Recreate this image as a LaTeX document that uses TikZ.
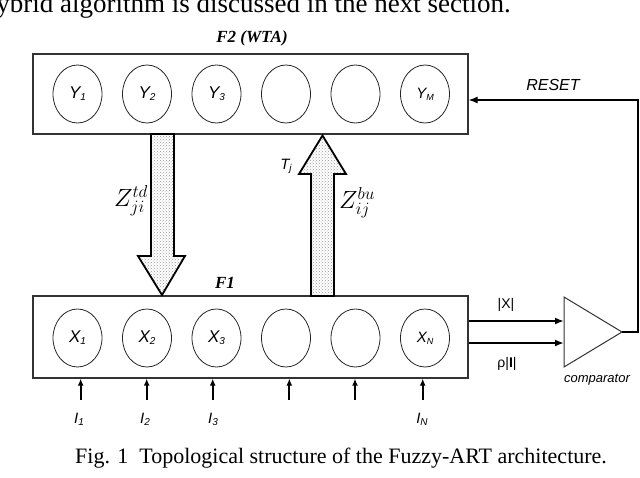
\documentclass[tikz,border=0pt]{standalone}
\usepackage{fontspec}
\setmainfont{Liberation Serif}
\setsansfont{Liberation Sans}
\usetikzlibrary{shapes.geometric,arrows.meta,calc,patterns}
\newcommand{\sil}[4]{{\fontsize{#1}{#1}\selectfont\sffamily\itshape #2}{\fontsize{#3}{#3}\selectfont\raisebox{-0.22em}{\sffamily\itshape #4}}}
\tikzset{
  layerbox/.style={draw=black!80, line width=1.3pt, inner sep=0pt},
  neuron/.style={ellipse, draw=black!85, line width=0.8pt, minimum width=49pt, minimum height=58pt, inner sep=0pt},
  bigarrow/.style={draw=black, line width=1.8pt, fill=black!12, pattern=crosshatch dots, pattern color=black!40, line join=miter},
  sig/.style={line width=1.8pt, -{Latex[length=9pt,width=7pt]}},
  inarrow/.style={line width=1.8pt, -{Latex[length=7pt,width=6pt]}},
  resetline/.style={line width=1.1pt, -{Latex[length=9pt,width=7pt]}},
  comp/.style={draw=black!80, line width=1pt},
  layerlbl/.style={font=\fontsize{17}{17}\selectfont\bfseries\itshape, inner sep=0pt},
}
\begin{document}
\begin{tikzpicture}[x=1pt,y=-1pt]
\useasboundingbox (0,0) rectangle (640,477);
% top text and caption
\node[anchor=base east, inner sep=0pt, font=\fontsize{27}{27}\selectfont] (toptext) at (511,12.5) {ybrid algorithm is discussed in the next section.};
\node[anchor=base west, inner sep=0pt, font=\fontsize{22}{22}\selectfont] (caption) at (75,463) {Fig. 1\hspace{0.5em}Topological structure of the Fuzzy-ART architecture.};
% layers
\node[layerbox, minimum width=435pt, minimum height=80pt] (f2) at (250.5,94) {};
\node[layerbox, minimum width=435pt, minimum height=82pt] (f1) at (250.5,337) {};
\node[layerlbl] (f2lbl) at (252,38) {F2 (WTA)};
\node[layerlbl] (f1lbl) at (225,283) {F1};
% F2 neurons
\node[neuron] (y1) at (77.5,94) {\sil{17}{Y}{10}{1}};
\node[neuron] (y2) at (147,94) {\sil{17}{Y}{10}{2}};
\node[neuron] (y3) at (216.5,94) {\sil{17}{Y}{10}{3}};
\node[neuron] (y4) at (286,94) {};
\node[neuron] (y5) at (355.5,94) {};
\node[neuron] (ym) at (425,94) {\sil{15}{Y}{9}{M}};
% F1 neurons
\node[neuron] (x1) at (77.5,338) {\sil{17}{X}{10}{1}};
\node[neuron] (x2) at (147,338) {\sil{17}{X}{10}{2}};
\node[neuron] (x3) at (216.5,338) {\sil{17}{X}{10}{3}};
\node[neuron] (x4) at (286,338) {};
\node[neuron] (x5) at (355.5,338) {};
\node[neuron] (xn) at (425,338) {\sil{15}{X}{9}{N}};
% big arrows
\draw[bigarrow] (151,134) -- (174,134) -- (174,256) -- (185,256) -- (162,295) -- (138,256) -- (151,256) -- cycle;
\draw[bigarrow] (311,296) -- (334,296) -- (334,174) -- (346,174) -- (322.5,135.5) -- (299,174) -- (311,174) -- cycle;
\node[inner sep=0pt, font=\fontsize{26}{26}\selectfont] (ztd) at (131,201) {$Z^{td}_{ji}$};
\node[inner sep=0pt, font=\fontsize{26}{26}\selectfont] (zbu) at (357,203) {$Z^{bu}_{ij}$};
\node[inner sep=0pt] (tj) at (286,166) {\sil{15}{T}{10}{j}};
% inputs
\foreach \n/\xx in {1/80.7,2/146.7,3/212.7,4/289.3,5/355,6/422.7}{
  \coordinate (in\n) at (\xx,400);
  \draw[inarrow] (in\n) -- (in\n |- f1.south);
}
\node[inner sep=0pt] (i1) at (79,419) {\sil{15}{I}{10}{1}};
\node[inner sep=0pt] (i2) at (145,419) {\sil{15}{I}{10}{2}};
\node[inner sep=0pt] (i3) at (213,419) {\sil{15}{I}{10}{3}};
\node[inner sep=0pt] (in) at (422,419) {\sil{15}{I}{10}{N}};
% comparator
\coordinate (ca) at (564,321);
\coordinate (cb) at (564,343);
\coordinate (ctip) at (622,332);
\coordinate (cr) at (638,332);
\draw[comp] (564,297) -- (ctip) -- (564,367) -- cycle;
\draw[sig] (f1.east |- ca) -- (ca);
\draw[sig] (f1.east |- cb) -- (cb);
\coordinate (rst) at (f2.east |- 0,100);
\draw[resetline] (ctip) -- (cr) |- (rst);
\node[inner sep=0pt, font=\fontsize{14}{14}\selectfont\sffamily] (absx) at (506,305) {|X|};
\node[inner sep=0pt, font=\fontsize{14}{14}\selectfont\sffamily] (rhoi) at (507,364) {ρ|\textbf{I}|};
\node[inner sep=0pt, font=\fontsize{13}{13}\selectfont\sffamily\itshape] (complbl) at (597,380) {comparator};
\node[inner sep=0pt, font=\fontsize{16}{16}\selectfont\sffamily\itshape] (resetlbl) at (553,85) {RESET};
\end{tikzpicture}
\end{document}
